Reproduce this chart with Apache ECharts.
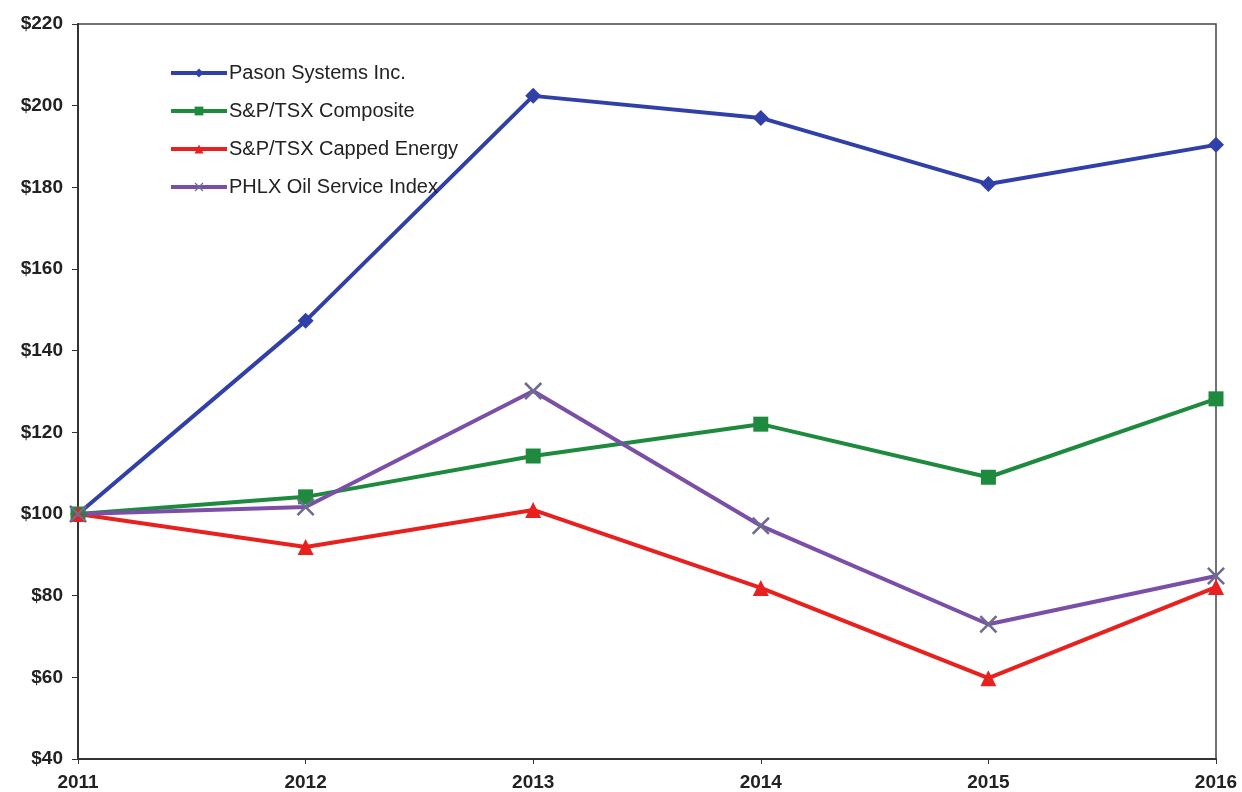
<!DOCTYPE html>
<html><head><meta charset="utf-8">
<script src="https://cdn.jsdelivr.net/npm/echarts@6/dist/echarts.min.js"></script>
<style>html,body{margin:0;padding:0;background:#fff}#c{width:1242px;height:792px}</style>
</head><body><div id="c"></div>
<script>
const years = ['2011','2012','2013','2014','2015','2016'];
const pason = [100, 147.3, 202.4, 197, 180.8, 190.4];
const composite = [100, 104.2, 114.2, 122, 109, 128.2];
const energy = [100, 91.9, 101, 81.9, 59.8, 82.1];
const phlx = [100, 101.7, 130.1, 97.1, 73, 84.8];
const names = ['Pason Systems Inc.', 'S&P/TSX Composite', 'S&P/TSX Capped Energy', 'PHLX Oil Service Index'];

const crossPath = 'path://M0,1L1,0L10,9L9,10Z M9,0L10,1L1,10L0,9Z';
const chart = echarts.init(document.getElementById('c'));
function mk(name, data, color, symbol, size, symColor) {
  return {
    name, type: 'line', data, symbol, symbolSize: size,
    lineStyle: { color, width: 4 },
    itemStyle: { color: symColor || color },
    emphasis: { disabled: true }, z: 2
  };
}
chart.setOption({
  animation: false,
  grid: { left: 78, right: 26, top: 24, bottom: 33, show: true, borderColor: '#444', borderWidth: 1.5 },
  legend: {
    orient: 'vertical', left: 164, top: 58, itemGap: 18, itemWidth: 56, itemHeight: 11,
    lineStyle: { width: 4 },
    textStyle: { fontFamily: 'Liberation Sans, Arial', fontSize: 20, color: '#222', padding: [0,0,0,-3] },
    data: names
  },
  xAxis: {
    type: 'category', data: years, boundaryGap: false,
    axisLine: { lineStyle: { color: '#333', width: 2 } },
    axisTick: { show: true, length: 5, lineStyle: { color: '#333' } },
    axisLabel: { fontFamily: 'Liberation Sans, Arial', fontWeight: 'bold', fontSize: 19, color: '#222', margin: 14 },
    splitLine: { show: false }
  },
  yAxis: {
    type: 'value', min: 40, max: 220, interval: 20,
    axisLine: { show: true, lineStyle: { color: '#333', width: 2 } },
    axisTick: { show: true, length: 6, lineStyle: { color: '#333' } },
    axisLabel: { fontFamily: 'Liberation Sans, Arial', fontWeight: 'bold', fontSize: 19, color: '#222', formatter: v => '$' + v, margin: 15 },
    splitLine: { show: false }
  },
  series: [
    mk(names[0], pason, '#3040A8', 'diamond', 16),
    mk(names[1], composite, '#1E8A3E', 'rect', 15),
    mk(names[2], energy, '#E8201E', 'triangle', 16),
    mk(names[3], phlx, '#7B4FA8', crossPath, 18, '#6F6A90')
  ]
});
</script></body></html>
